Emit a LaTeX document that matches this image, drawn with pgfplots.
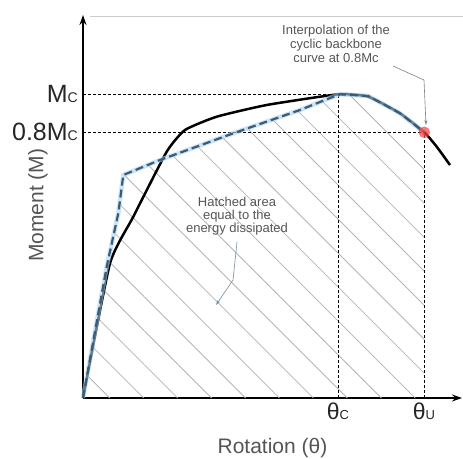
\documentclass[border=0pt]{standalone}
\usepackage{pgfplots}
\pgfplotsset{compat=1.18}
\usepackage{fontspec}
\setmainfont{Liberation Sans}
\usetikzlibrary{patterns.meta,arrows.meta}
\definecolor{dashblue}{RGB}{58,92,118}
\definecolor{glow}{RGB}{170,210,240}
\definecolor{txtgray}{RGB}{85,85,85}
\definecolor{hatch}{RGB}{180,180,180}
\newcommand{\fs}[1]{\fontsize{#1}{#1}\selectfont}

\begin{document}
\begin{tikzpicture}
\path[use as bounding box] (-83pt,-60pt) rectangle (380pt,398pt);
\begin{axis}[
  at={(0,0)}, anchor=south west,
  scale only axis, width=379pt, height=383pt,
  xmin=0, xmax=379, ymin=0, ymax=383,
  axis lines=left,
  axis line style={line width=1.5pt, -{Stealth[length=10pt,width=7pt]}},
  clip=false,
  xtick={255,341},
  xticklabels={\mbox{\fs{23}θ\fs{13}C}, \mbox{\fs{23}θ\fs{13}U}},
  ytick={266,304},
  yticklabels={\mbox{\fs{25}0.8M\fs{14}C}, \mbox{\fs{25}M\fs{14}C}},
  major tick length=0pt,
  xticklabel style={inner sep=0pt, yshift=-5pt, text=black!85},
  yticklabel style={inner sep=0pt, xshift=-5pt, text=black!85},
  xlabel={\fs{21}Rotation (θ)},
  ylabel={\fs{21}Moment (M)},
  xlabel style={at={(axis description cs:0.5,-0.1305)}, anchor=center, text=txtgray},
  ylabel style={at={(axis description cs:-0.119,0.503)}, anchor=center, text=txtgray},
]

% hatched area under the idealised (dashed) curve up to theta_u
\addplot[draw=none, pattern={Lines[angle=-45,distance=24pt,line width=0.8pt]}, pattern color=hatch]
coordinates {
  (0,0) (23.7,131.3) (35.3,184.7) (40.3,223) (77,238) (150.3,264.7) (217,288)
  (250.3,301.3) (257,303.7) (285.3,302) (317,284.7) (341.3,265.7)
} \closedcycle;

% reference lines
\addplot[black, line width=0.9pt, dash pattern=on 3pt off 2pt] coordinates {(0,304) (255,304)};
\addplot[black, line width=0.9pt, dash pattern=on 3pt off 2pt] coordinates {(255,0) (255,304)};
\addplot[black, line width=0.9pt, dash pattern=on 3pt off 2pt] coordinates {(0,266) (341,266)};
\addplot[black, line width=0.9pt, dash pattern=on 3pt off 2pt] coordinates {(341,0) (341,266)};

% cyclic backbone curve
\addplot[black, line width=2.5pt, smooth, tension=0.3] coordinates {
  (0,0) (27,134.7) (50.3,181.3) (83.7,246.3) (102,268) (133.7,281.3)
  (183.7,293) (255.3,303.7) (285.3,301.3) (317,284.7) (341.3,265.7)
  (353.7,251.3) (367,233)
};

% idealised curve (glow + dashes)
\addplot[glow, line width=4.5pt, opacity=0.6] coordinates {
  (0,0) (23.7,131.3) (35.3,184.7) (40.3,223) (77,238) (150.3,264.7) (217,288)
  (250.3,301.3) (257,303.7) (285.3,302) (317,284.7) (341.3,265.7)
};
\addplot[dashblue, line width=2.2pt, dash pattern=on 8pt off 4pt] coordinates {
  (0,0) (23.7,131.3) (35.3,184.7) (40.3,223) (77,238) (150.3,264.7) (217,288)
  (250.3,301.3) (257,303.7) (285.3,302) (317,284.7) (341.3,265.7)
};

% interpolated point at 0.8Mc
\addplot[only marks, mark=*, mark size=5.5pt, draw=red!70, fill=red!75, opacity=0.7]
coordinates {(341.3,265.7)};

% annotations
\node[align=center, text=txtgray, font=\fs{13}, inner sep=0pt] at (axis cs:253,354)
  {Interpolation of the\\[1pt]cyclic backbone\\[1pt]curve at 0.8Mc};
\draw[gray, line width=0.6pt, -{Stealth[length=5pt,width=3pt]}]
  (axis cs:310,332) -- (axis cs:341,318) -- (axis cs:343,273);

\node[align=center, text=txtgray, font=\fs{13}, inner sep=0pt] at (axis cs:154,182)
  {Hatched area\\[0pt]equal to the\\[0pt]energy dissipated};
\draw[dashblue!70, line width=0.6pt, -{Stealth[length=5pt,width=3pt]}]
  (axis cs:154,156) -- (axis cs:150,118) -- (axis cs:133,93);

% faint frame line at the top
\draw[black!20, line width=0.8pt] (axis cs:7,382) -- (axis cs:380,382);
\end{axis}
\end{tikzpicture}
\end{document}
